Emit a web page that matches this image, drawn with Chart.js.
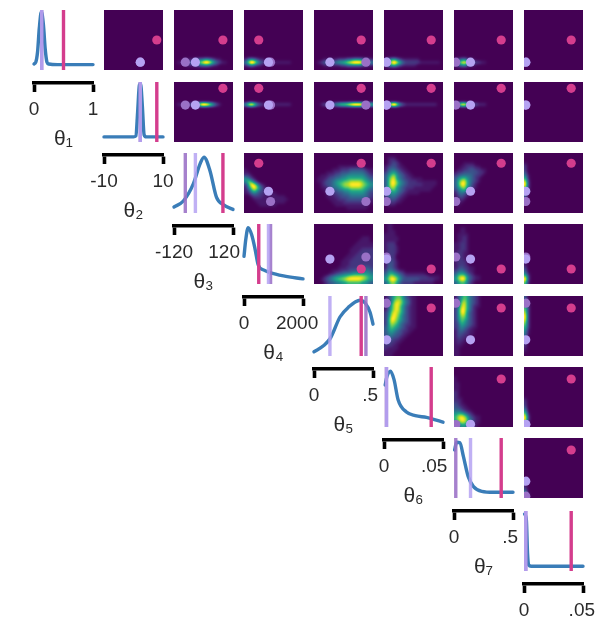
<!DOCTYPE html>
<html><head><meta charset="utf-8">
<style>
html,body{margin:0;padding:0;background:#fff;width:605px;height:639px;overflow:hidden}
#wrap{position:relative;width:605px;height:639px;filter:blur(0.7px)}
canvas{position:absolute;display:block}
</style>
<script src="https://cdn.jsdelivr.net/npm/chart.js@4"></script>
</head><body><div id="wrap"></div>
<script>
/* ---------- axis data ---------- */
const paramNames=["θ₁","θ₂","θ₃","θ₄","θ₅","θ₆","θ₇","θ₈"];
const dimMin=[0,-10,-120,0,0,0,0,0];
const dimMax=[1,10,120,2000,.5,.05,.5,.05];
const lowLabels=["0","-10","-120","0","0","0","0","0"];
const highLabels=["1","10","120","2000",".5",".05",".5",".05"];
const highLabelAt=[1,10,84,1800,.475,.0425,.475,.049];

/* ---------- reference points ---------- */
const pinkPoint=[.5,7.9,79,500,.4,.04,.4,.04];
const lightPoint=[.13,2.3,-33,830,.135,.00225,.14,.0015];
const darkPoint=[.13,2.3,-74,900,.44,.002,.015,.0015];

/* ---------- marginal curves ---------- */
const curveX1=[0,.03,.06,.09,.125,.16,.19,.22,.25,.4,1];
const curveY1=[.1,.13,.3,.7,.97,.75,.35,.13,.1,.09,.09];
const curveX2=[-10,0,.8,1.4,2,2.4,3,3.6,4.4,10];
const curveY2=[.085,.085,.1,.5,.95,.97,.6,.12,.085,.085];
const curveX3=[-120,-82,-41,-14,2,26,53,82,120];
const curveY3=[.1,.2,.49,.82,.93,.71,.26,.135,.06];
const curveX4=[0,60,140,260,380,480,660,880,1340,2000];
const curveY4=[.46,.74,.94,.82,.57,.32,.235,.19,.135,.085];
const curveX5=[0,.08,.14,.22,.29,.39,.435,.475,.5];
const curveY5=[.07,.17,.3,.65,.81,.93,.88,.73,.53];
const curveX6=[.001,.0025,.0055,.0085,.012,.019,.0265,.036,.04,.05];
const curveY6=[.7,.84,.93,.79,.45,.25,.19,.16,.14,.08];
const curveX7=[.005,.0225,.05,.08,.12,.165,.235,.335,.5];
const curveY7=[.8,.93,.92,.69,.36,.19,.11,.095,.095];
const curveX8=[.0005,.002,.003,.004,.006,.05];
const curveY8=[.95,.85,.3,.1,.08,.08];
const curvesX=[curveX1,curveX2,curveX3,curveX4,curveX5,curveX6,curveX7,curveX8];
const curvesY=[curveY1,curveY2,curveY3,curveY4,curveY5,curveY6,curveY7,curveY8];

/* ---------- pair densities: 20 rows top to bottom, digits 0-9, short rows continue with 0 ---------- */
const heat_1_2=[];
const heat_1_3=["","","","","","","","","","","","","","","","","00011112334432110000","01122334679975321100","00001112233321100000",""];
const heat_1_4=["","","","","","","","","","","","","","","","","13432110000000000000","36985322221111110000","12321100000000000000",""];
const heat_1_5=["","","","","","","","","","","","","","","","","00011111222334443221","01233334556789998654","00011111122333332211",""];
const heat_1_6=["","","","","","","","","","","","","","","","","13453211111100000000","35797532222211111110","13453211111000000000",""];
const heat_1_7=["","","","","","","","","","","","","","","","","12342110000","35787332211","1234211",""];
const heat_1_8=["","","","","","","","","","","","","","","","","","21","",""];
const heat_2_3=["","","","","","","","01112235699864210000",""];
const heat_2_4=["","","","","","","","36863211111111110000",""];
const heat_2_5=["","","","","","","","00122234566789998765",""];
const heat_2_6=["","","","","","","","35796321111111111100",""];
const heat_2_7=["","","","","","","","45785322111",""];
const heat_2_8=["","","","","","","","2"];
const heat_3_4=["","","","","","1","11","22100","54210","47631","25985210","14797421","12575321100","11343221111","00122211111111","00011111111111100","000011111111110","00000111111"];
const heat_3_5=["","","","","00000000111111111","00000011122233333211","00001112233344444321","00111223344555555432","01112334455666666543","01123345667788887654","00123345678899998765","00112344567788887654","00011233445566666543","00001122334455555432","00001112233344444432","00000111222333333321","00000011112222222211","0000000111111111111","00000000000111111100"];
const heat_3_6=["","0111","01221","012321","1233211","13443211","245643211","3578543211","36895432211110","36997543222111111100","36997543222221111100","36885432221111111","35675432111111110","34554321111100000","2344321100","1233211","1222110","0111"];
const heat_3_7=["","","","0001111","0011222110","0112233221100","1223333322100","2344443221","356754321","368964321","36996421","35785321","24564210","134321","12321","11210","111","01"];
const heat_3_8=["","","","1","2","2","3","41","61","82","92","72","51","4","3","2","1"];
const heat_4_5=["","","","","00000000000000001110","00000000000000011110","00000000000000111111","00000000000001111111","00000000000011112222","00000000000011122222","00000000000111222222","00000000001112222222","00000000011122222222","00000000011122222222","00000000111222233332","00000011122233334443","00000112334445555554","00012345566788888765","00123456778999998765","00012334455666665543"];
const heat_4_6=["011","011","0111","1111","11111","11111","1222","12221","12221","12221","1222","1222","12321","13321","13321","2443211","3565432111111100","46876432222222211110","57997533333322222110","35775322221111111"];
const heat_4_7=["","0011","0011","01111","01121","01121","11221","11221","11221","12211","12211","12211","12221","12221","1232211","2343211","3555321","4788532110","5799532110","3566421"];
const heat_4_8=["","","","","","","","","","","","","1","1","2","3","41","72","92","61"];
const heat_5_6=["1246775321100","1247886431100","1358986431100","1368975321100","1368975321100","2479875321100","2489864321100","2599764321100","2598754321100","2587643221100","3576543211100","3565432211","345433211","3443321100","3332211","2322110","22211","21111","1111","111"];
const heat_5_7=["135764321","136864321","147964321","248964211","25996421","25995321","25885321","25775321","24764321","23654321","23543211","134321100","1332211","132211","12211","1211","111","11","11","11"];
const heat_5_8=["3","41","51","62","72","82","92","92","82","72","62","51","41","4","3","2","2","1","1",""];
const heat_6_7=["","","","1","1","11","11","11","21","21","211","221","3211","33211","443211","5665321","68986321100","68997431100","568864211","34554321"];
const heat_6_8=["","","","","","","","","","","1","2","2","3","5","71","92","92","61","4"];
const heat_7_8=["","","","","","","","","","","","","","","","1","2","3","61","81"];
const heatGrids={"1_2":heat_1_2,"1_3":heat_1_3,"1_4":heat_1_4,"1_5":heat_1_5,"1_6":heat_1_6,"1_7":heat_1_7,"1_8":heat_1_8,
"2_3":heat_2_3,"2_4":heat_2_4,"2_5":heat_2_5,"2_6":heat_2_6,"2_7":heat_2_7,"2_8":heat_2_8,
"3_4":heat_3_4,"3_5":heat_3_5,"3_6":heat_3_6,"3_7":heat_3_7,"3_8":heat_3_8,
"4_5":heat_4_5,"4_6":heat_4_6,"4_7":heat_4_7,"4_8":heat_4_8,
"5_6":heat_5_6,"5_7":heat_5_7,"5_8":heat_5_8,"6_7":heat_6_7,"6_8":heat_6_8,"7_8":heat_7_8};

/* ---------- layout and styles ---------- */
const colLeft=[34,104,174,244,314,384,454,524];
const rowTop=[10,82,153,224,296,367,438,511];
const PW=59,PH=60,GRID=20;
const COL_PINK="#d43d8d",COL_LIGHT="#b5a2f2",COL_DARK="#9a70c6",COL_BLUE="#3a7db8";
const viridis=[[68,1,84],[72,36,117],[65,68,135],[53,95,141],[42,120,142],[33,145,140],[34,168,132],[68,191,112],[122,209,81],[189,223,38],[253,231,37]];
function vir(t){t=Math.max(0,Math.min(1,t))*10;const i=Math.min(9,Math.floor(t)),f=t-i,a=viridis[i],b=viridis[i+1];
 return [a[0]+(b[0]-a[0])*f,a[1]+(b[1]-a[1])*f,a[2]+(b[2]-a[2])*f];}

const wrap=document.getElementById('wrap');
function mk(l,t,w,h,z){const c=document.createElement('canvas');c.width=w;c.height=h;c.style.left=l+'px';c.style.top=t+'px';c.style.width=w+'px';c.style.height=h+'px';c.style.zIndex=z;wrap.appendChild(c);return c;}

/* paints density cells placed by the chart scales as one smooth image */
function boxPass(F,W,H){
 const G=new Float32Array(W*H);
 for(let y=0;y<H;y++)for(let x=0;x<W;x++){let s=0,n=0;
  for(let k=-1;k<=1;k++){const q=x+k;if(q>=0&&q<W){s+=F[y*W+q];n++;}}G[y*W+x]=s/n;}
 const O=new Float32Array(W*H);
 for(let y=0;y<H;y++)for(let x=0;x<W;x++){let s=0,n=0;
  for(let k=-1;k<=1;k++){const q=y+k;if(q>=0&&q<H){s+=G[q*W+x];n++;}}O[y*W+x]=s/n;}
 return O;
}
const heatPlugin={id:'heatSmooth',beforeDatasetDraw(chart,args){
 const ds=chart.data.datasets[args.index];if(!ds.heat)return;
 const pts=args.meta.data,a=chart.chartArea,ctx=chart.ctx;
 const dpr=chart.currentDevicePixelRatio||1;
 const W=Math.round((a.right-a.left)*dpr),H=Math.round((a.bottom-a.top)*dpr);
 const off=document.createElement('canvas');off.width=W;off.height=H;const oc=off.getContext('2d');
 const img=oc.createImageData(W,H);
 const x0=pts[0].x,y0=pts[0].y,dx=pts[1].x-pts[0].x,dy=pts[GRID].y-pts[0].y;
 const at=(r,c)=>ds.data[Math.max(0,Math.min(GRID-1,r))*GRID+Math.max(0,Math.min(GRID-1,c))].v;
 let F=new Float32Array(W*H);
 for(let py=0;py<H;py++)for(let px=0;px<W;px++){
  const fx=((px+.5)/dpr+a.left-x0)/dx,fy=((py+.5)/dpr+a.top-y0)/dy;
  const c=Math.floor(fx),r=Math.floor(fy),u=fx-c,w=fy-r;
  F[py*W+px]=(at(r,c)*(1-u)+at(r,c+1)*u)*(1-w)+(at(r+1,c)*(1-u)+at(r+1,c+1)*u)*w;
 }
 F=boxPass(boxPass(boxPass(F,W,H),W,H),W,H);
 let peak=0,topDigit=0;
 for(let k=0;k<W*H;k++)if(F[k]>peak)peak=F[k];
 for(const p of ds.data)if(p.v>topDigit)topDigit=p.v;
 for(let k=0;k<W*H;k++){
  const t=peak>0?F[k]/peak*(topDigit/9):0;
  const col=vir(Math.pow(t,1.3)),q=k*4;
  img.data[q]=col[0];img.data[q+1]=col[1];img.data[q+2]=col[2];img.data[q+3]=255;
 }
 oc.putImageData(img,0,0);
 ctx.drawImage(off,a.left,a.top,a.right-a.left,a.bottom-a.top);
 return false;
}};

function dot(x,y,color,order){return {type:'scatter',data:[{x,y}],pointRadius:4.6,pointHoverRadius:4.6,pointBackgroundColor:color,pointBorderWidth:0,clip:0,order};}

/* upper triangle: pair panels */
for(let r=1;r<=8;r++)for(let c=r+1;c<=8;c++){
 const i=r-1,j=c-1,grid=heatGrids[r+"_"+c];
 const cells=[];
 for(let a=0;a<GRID;a++){const row=(grid[a]||"").padEnd(GRID,"0");
  for(let b=0;b<GRID;b++)cells.push({x:dimMin[j]+(b+.5)/GRID*(dimMax[j]-dimMin[j]),y:dimMax[i]-(a+.5)/GRID*(dimMax[i]-dimMin[i]),v:+row[b]});}
 new Chart(mk(colLeft[j],rowTop[i],PW,PH,1),{type:'scatter',
  data:{datasets:[
   {heat:true,data:cells,pointRadius:0,order:9},
   dot(darkPoint[j],darkPoint[i],COL_DARK,3),
   dot(lightPoint[j],lightPoint[i],COL_LIGHT,2),
   dot(pinkPoint[j],pinkPoint[i],COL_PINK,1)]},
  options:{responsive:false,animation:false,events:[],layout:{padding:0,autoPadding:false},
   plugins:{legend:{display:false},tooltip:{enabled:false}},
   scales:{x:{type:'linear',display:false,min:dimMin[j],max:dimMax[j]},y:{type:'linear',display:false,min:dimMin[i],max:dimMax[i]}}},
  plugins:[heatPlugin]});
}

/* diagonal: marginal curves with bracket axes */
const BRACKET_GAP=13,AXIS_H=69,PAD=44;
for(let d=0;d<8;d++){
 const lo=dimMin[d],hi=dimMax[d],at=highLabelAt[d];
 const vline=(v,color,order)=>({type:'scatter',showLine:true,data:[{x:v,y:0},{x:v,y:1}],borderColor:color,borderWidth:3.4,pointRadius:0,clip:false,order});
 new Chart(mk(colLeft[d]-PAD,rowTop[d]-2,PW+2*PAD,2+PH+BRACKET_GAP+AXIS_H,5),{type:'scatter',
  data:{datasets:[
   {type:'scatter',showLine:true,data:curvesX[d].map((x,k)=>({x,y:curvesY[d][k]})),borderColor:COL_BLUE,borderWidth:3.4,pointRadius:0,cubicInterpolationMode:'monotone',borderCapStyle:'round',clip:false,order:5},
   vline(darkPoint[d],COL_DARK+"e0",3),vline(lightPoint[d],COL_LIGHT+"d8",2),vline(pinkPoint[d],COL_PINK,1)]},
  options:{responsive:false,animation:false,events:[],
   layout:{padding:{left:PAD,right:PAD,top:2,bottom:0},autoPadding:false},
   plugins:{legend:{display:false},tooltip:{enabled:false}},
   scales:{
    y:{type:'linear',display:false,min:-BRACKET_GAP/PH,max:1},
    x:{type:'linear',min:lo,max:hi,position:'bottom',
     afterBuildTicks:s=>{s.ticks=(at===hi?[lo,hi]:[lo,at,hi]).map(value=>({value}));},
     afterFit:s=>{s.height=AXIS_H;},
     border:{display:true,color:'#000',width:3.6},
     grid:{drawOnChartArea:false,drawTicks:true,tickLength:9,tickWidth:3.6,
      tickColor:ctx=>(ctx.tick&&(ctx.tick.value===lo||ctx.tick.value===hi))?'#000':'rgba(0,0,0,0)'},
     ticks:{autoSkip:false,maxRotation:0,minRotation:0,padding:6,color:'#2a2a2a',font:{family:'"Liberation Sans"',size:19},
      callback:v=>v===lo?lowLabels[d]:(v===at?highLabels[d]:'')},
     title:{display:d<7,text:paramNames[d],color:'#2a2a2a',font:{family:'"Liberation Sans"',size:21},padding:{top:0,bottom:0}}
    }}}});
}
</script></body></html>
